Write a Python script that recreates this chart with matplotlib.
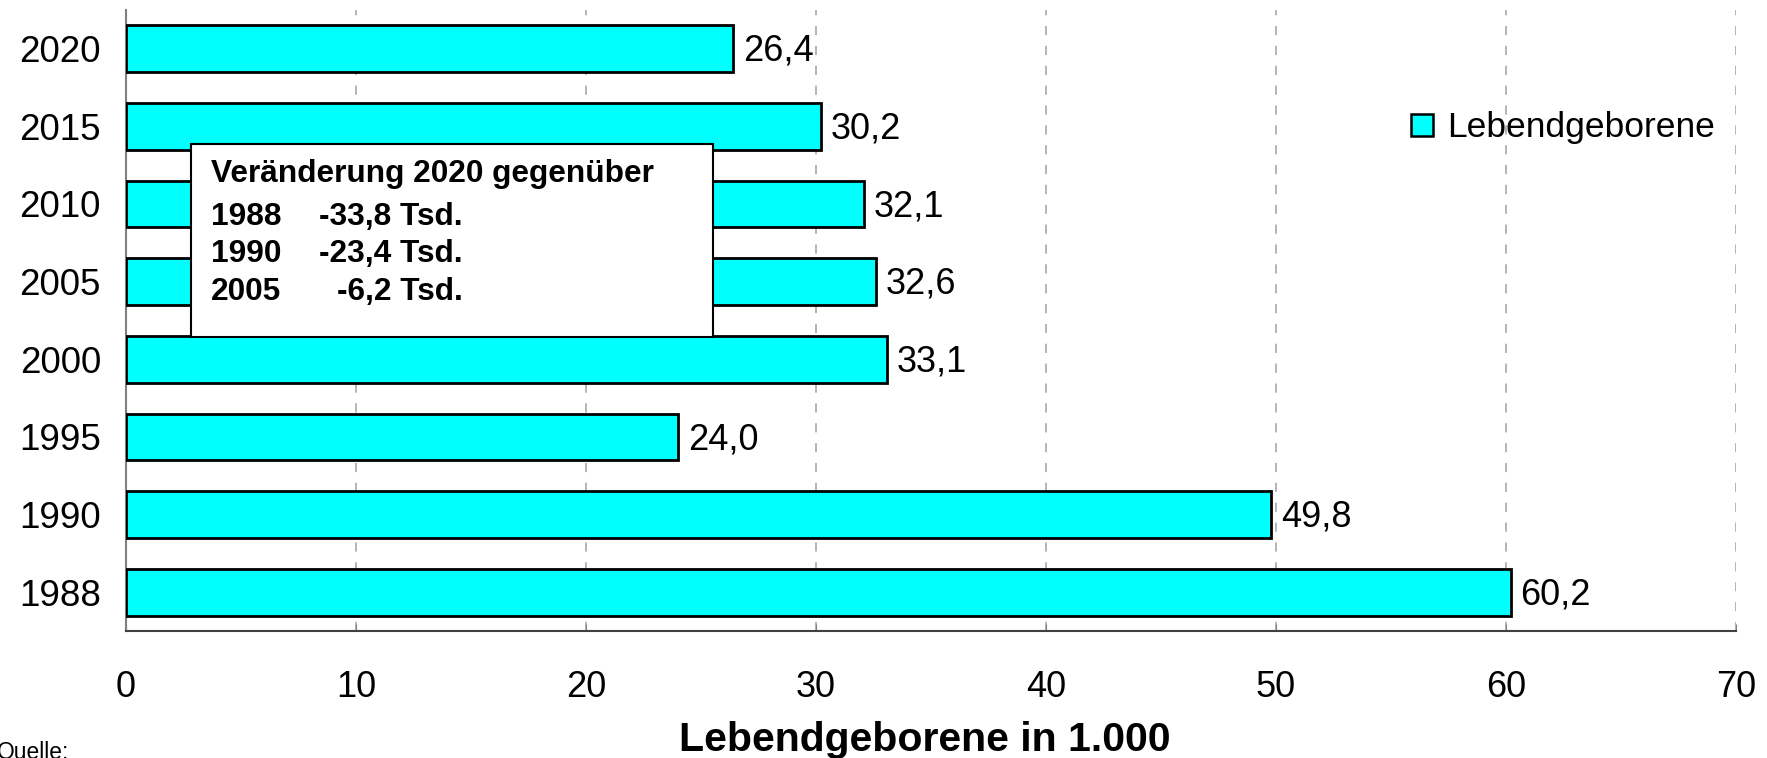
import matplotlib
matplotlib.use("Agg")
import matplotlib.pyplot as plt
from matplotlib.patches import Patch, Rectangle

# data
years = ["1988", "1990", "1995", "2000", "2005", "2010", "2015", "2020"]
births = [60.2, 49.8, 24.0, 33.1, 32.6, 32.1, 30.2, 26.4]
compare_years = ["1988", "1990", "2005"]
x_ticks = [0, 10, 20, 30, 40, 50, 60, 70]

plt.rcParams["font.family"] = ["Liberation Sans", "DejaVu Sans"]

fig = plt.figure(figsize=(17.67, 7.58), dpi=100)
ax = fig.add_axes([0.0713, 0.1675, 0.9111, 0.8195])

pos = list(range(len(years)))
ax.barh(pos, births, height=0.6, color="#00FFFF", edgecolor="black",
        linewidth=2.0, zorder=3)

# value labels with German decimal comma
for p, v in zip(pos, births):
    ax.annotate(f"{v:.1f}".replace(".", ","), (v, p), xytext=(7, -2),
                textcoords="offset points", va="center", ha="left",
                fontsize=26, zorder=4)

ax.set_xlim(0, 70)
ax.set_ylim(-0.5, 7.5)
ax.set_xticks(x_ticks)
ax.set_yticks(pos)
ax.set_yticklabels(years)
ax.tick_params(axis="x", direction="in", length=5, color="#808080",
               labelsize=26, pad=28)
ax.tick_params(axis="y", length=0, labelsize=26.5, pad=18)

ax.grid(axis="x", color="#a0a0a0", linestyle=(0, (6, 7)), linewidth=1.1, zorder=0)
for s in ["top", "right"]:
    ax.spines[s].set_visible(False)
ax.spines["left"].set_color("#808080")
ax.spines["left"].set_linewidth(1.5)
ax.spines["bottom"].set_color("#404040")
ax.spines["bottom"].set_linewidth(1.5)

ax.set_xlabel("Lebendgeborene in 1.000", fontsize=29.5, fontweight="bold")
ax.xaxis.label.set_va("baseline")
ax.xaxis.set_label_coords(0.496, -0.193)

# legend
handle = Patch(facecolor="#00FFFF", edgecolor="black", linewidth=1.8)
ax.legend([handle], ["Lebendgeborene"], loc="center right",
          bbox_to_anchor=(1.0, 0.81), frameon=False, fontsize=25.5,
          handlelength=0.6, handleheight=0.6, handletextpad=0.4,
          borderaxespad=0.2)

# info box with change of 2020 compared to earlier years
latest = births[years.index("2020")]
box = Rectangle((0.108, 0.556), 0.2955, 0.254, transform=fig.transFigure,
                facecolor="white", edgecolor="black", linewidth=1.5, zorder=5)
fig.patches.append(box)
fig.text(0.1194, 0.760, "Veränderung 2020 gegenüber", fontsize=22.8,
         fontweight="bold", va="baseline", zorder=6)
for i, y in enumerate(compare_years):
    diff = latest - births[years.index(y)]
    yy = 0.7035 - i * 0.0497
    fig.text(0.1194, yy, y, fontsize=22.8, fontweight="bold", va="baseline", zorder=6)
    fig.text(0.262, yy, f"{diff:.1f}".replace(".", ",") + " Tsd.", fontsize=22.8,
             fontweight="bold", va="baseline", ha="right", zorder=6)

fig.text(-0.002, -0.001, "Quelle:", fontsize=16.4, va="baseline", ha="left")

fig.savefig("out.png", dpi=100)
